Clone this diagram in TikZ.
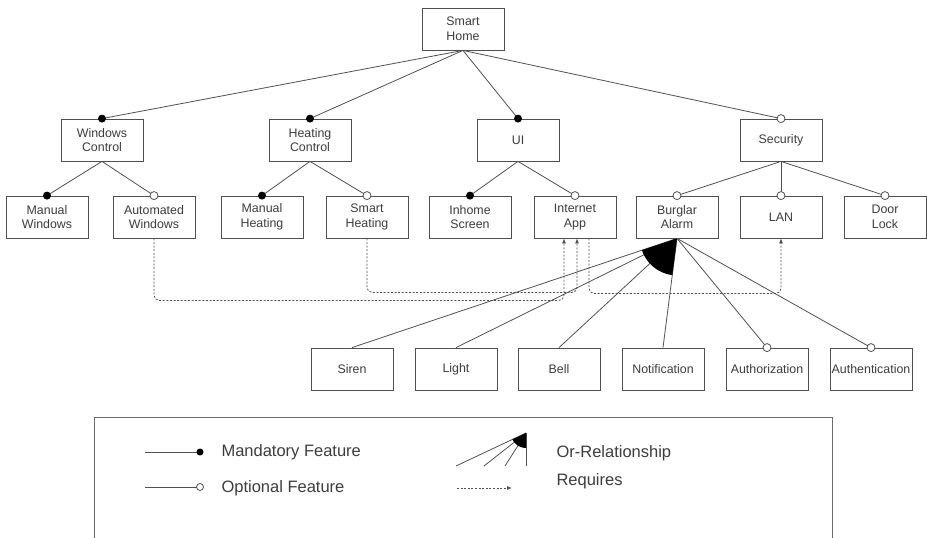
\documentclass[tikz,border=0pt]{standalone}
\usepackage{fontspec}
\setmainfont{Liberation Sans}
\usetikzlibrary{positioning,arrows.meta}
\definecolor{fmline}{HTML}{505050}
\definecolor{fmtext}{HTML}{3C3C3C}
\definecolor{fmframe}{HTML}{6A6A6A}
\tikzset{
  feat/.style   ={draw=fmline, fill=white, line width=0.8pt, minimum width=82pt,
                  minimum height=42pt, inner sep=1pt, align=center, text=fmtext,
                  font=\fontsize{12.4}{14.6}\selectfont},
  link/.style   ={draw=fmline, line width=0.8pt},
  reqs/.style   ={draw=fmline, line width=0.8pt, dash pattern=on 2pt off 1.6pt,
                  rounded corners=5pt, -{Latex[length=5pt,width=4pt]}},
  mdot/.style   ={fill=black},
  odot/.style   ={draw=fmline, fill=white, line width=0.8pt},
  legtxt/.style ={anchor=west, text=fmtext, font=\fontsize{16.5}{19}\selectfont},
}
% parent -- child, filled / open marker at the child
\newcommand{\mandlink}[2]{%
  \draw[link] (#1.south) -- (#2.north); \fill[mdot] (#2.north) circle (4pt);}
\newcommand{\optlink}[2]{%
  \draw[link] (#1.south) -- (#2.north); \filldraw[odot] (#2.north) circle (4pt);}

\begin{document}
\begin{tikzpicture}[x=1pt,y=-1pt]
  \useasboundingbox (0,0) rectangle (927,538);
  % tree
  \node[feat] (home) at (463,29) {Smart\\Home};
  \node[feat] (wc)  at (102,140) {Windows\\Control};
  \node[feat] (hc)  at (310,140) {Heating\\Control};
  \node[feat] (ui)  at (518,140) {UI};
  \node[feat] (sec) at (781,140) {Security};
  \node[feat] (mw)  at (47,217)  {Manual\\Windows};
  \node[feat] (aw)  at (154,217) {Automated\\Windows};
  \node[feat] (mh)  at (262,217) {Manual\\Heating};
  \node[feat] (smh) at (367,217) {Smart\\Heating};
  \node[feat] (ihs) at (470,217) {Inhome\\Screen};
  \node[feat] (ia)  at (575,217) {Internet\\App};
  \node[feat] (ba)  at (677,217) {Burglar\\Alarm};
  \node[feat] (lan) at (781,217) {LAN};
  \node[feat] (dl)  at (885,217) {Door\\Lock};
  \node[feat] (siren) at (352,369) {Siren};
  \node[feat] (light) at (456,369) {Light};
  \node[feat] (bell)  at (559,369) {Bell};
  \node[feat] (notif) at (663,369) {Notification};
  \node[feat] (authz) at (767,369) {Authorization};
  \node[feat] (authn) at (871,369) {Authentication};

  \mandlink{home}{wc} \mandlink{home}{hc} \mandlink{home}{ui} \optlink{home}{sec}
  \mandlink{wc}{mw}  \optlink{wc}{aw}
  \mandlink{hc}{mh}  \optlink{hc}{smh}
  \mandlink{ui}{ihs} \optlink{ui}{ia}
  \optlink{sec}{ba} \optlink{sec}{lan} \optlink{sec}{dl}

  % or-group of the alarm
  \foreach \c in {siren,light,bell,notif}
    \draw[link] (ba.south) -- (\c.north);
  \begin{scope}
    \clip (ba.south) -- (siren.north) -- (notif.north) -- cycle;
    \fill (ba.south) circle (37pt);
  \end{scope}
  \optlink{ba}{authz} \optlink{ba}{authn}

  % requires
  \draw[reqs] (aw.south) -- ++(0,62) -| ([xshift=-11pt]ia.south);
  \draw[reqs] (smh.south) -- ++(0,54) -| ([xshift=2pt]ia.south);
  \draw[reqs] ([xshift=14pt]ia.south) -- ++(0,55) -| (lan.south);

  % legend
  \draw[fmframe, line width=0.8pt] (94,538) -- (94,417) -- (832,417) -- (832,538);
  \coordinate (lm0) at (145,452); \coordinate (lm1) at (200,452);
  \draw[link] (lm0) -- (lm1); \fill[mdot] (lm1) circle (3.5pt);
  \node[legtxt] (lmt) at (218,452) {Mandatory Feature};
  \coordinate (lo0) at (145,487); \coordinate (lo1) at (200,487);
  \draw[link] (lo0) -- (lo1); \filldraw[odot] (lo1) circle (3.5pt);
  \node[legtxt] (lot) at (218,488) {Optional Feature};
  \coordinate (lor) at (526,433);
  \coordinate (lor1) at (456,466); \coordinate (lor2) at (484,466);
  \coordinate (lor3) at (505,466); \coordinate (lor4) at (526,466);
  \foreach \e in {lor1,lor2,lor3,lor4}
    \draw[link] (lor) -- (\e);
  \begin{scope}
    \clip (lor) -- (lor1) -- (lor4) -- cycle;
    \fill (lor) circle (15pt);
  \end{scope}
  \node[legtxt] (lort) at (553,453) {Or-Relationship};
  \coordinate (lr0) at (457,488); \coordinate (lr1) at (512,488);
  \draw[reqs] (lr0) -- (lr1);
  \node[legtxt] (lrt) at (553,481) {Requires};
\end{tikzpicture}
\end{document}
